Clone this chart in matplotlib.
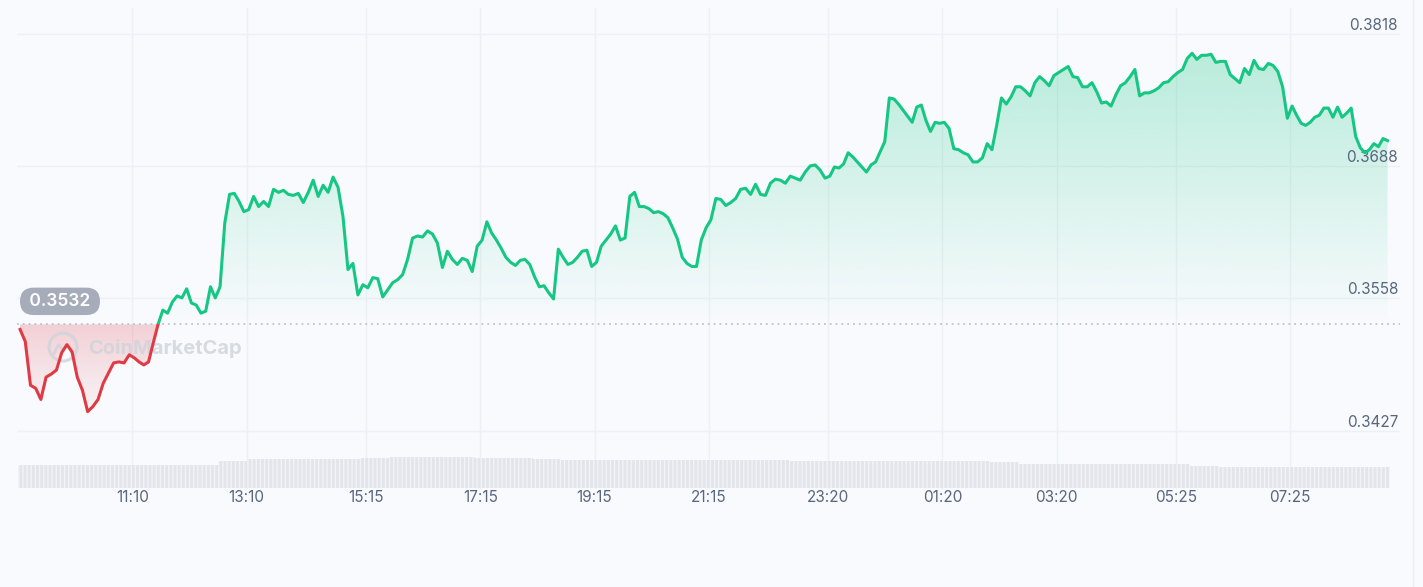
import numpy as np
import matplotlib
matplotlib.use("Agg")
import matplotlib.pyplot as plt
import matplotlib.transforms as mtransforms
from matplotlib.patches import Polygon, Rectangle, Ellipse
from matplotlib.lines import Line2D
from matplotlib.colors import to_rgb

plt.rcParams['font.family'] = ['Inter', 'DejaVu Sans']

# 24h price, one list per 2h window (09:10 -> 09:10 next day)
p_a = [0.3527, 0.3515, 0.3472, 0.3469, 0.3458, 0.3480, 0.3483, 0.3487, 0.3504, 0.3512, 0.3505,
       0.3480, 0.3467, 0.3446, 0.3451, 0.3458, 0.3474, 0.3484, 0.3494, 0.3495, 0.3494, 0.3502]
p_b = [0.3499, 0.3495, 0.3492, 0.3495, 0.3514, 0.3532, 0.3546, 0.3543, 0.3554, 0.3560, 0.3558, 0.3567,
       0.3553, 0.3551, 0.3543, 0.3545, 0.3569, 0.3558, 0.3569, 0.3632, 0.3660, 0.3661, 0.3653, 0.3643]
p_c = [0.3645, 0.3658, 0.3648, 0.3653, 0.3648, 0.3665, 0.3662, 0.3664, 0.3660, 0.3659, 0.3661, 0.3652,
       0.3662, 0.3674, 0.3658, 0.3669, 0.3662, 0.3677, 0.3667, 0.3638, 0.3586, 0.3592, 0.3561, 0.3571]
p_d = [0.3568, 0.3578, 0.3577, 0.3559, 0.3566, 0.3573, 0.3576, 0.3581, 0.3596, 0.3617, 0.3619, 0.3618,
       0.3624, 0.3621, 0.3612, 0.3588, 0.3604, 0.3596, 0.3591, 0.3597, 0.3595, 0.3584, 0.3609]
p_e = [0.3615, 0.3633, 0.3622, 0.3615, 0.3607, 0.3598, 0.3593, 0.3590, 0.3595, 0.3596, 0.3591, 0.3579,
       0.3569, 0.3570, 0.3563, 0.3557, 0.3606, 0.3598, 0.3591, 0.3593, 0.3598, 0.3604, 0.3605, 0.3589]
p_f = [0.3593, 0.3609, 0.3615, 0.3621, 0.3629, 0.3615, 0.3617, 0.3658, 0.3662, 0.3648, 0.3648, 0.3646,
       0.3642, 0.3643, 0.3641, 0.3637, 0.3627, 0.3616, 0.3598, 0.3592, 0.3589, 0.3589, 0.3615, 0.3627]
p_g = [0.3635, 0.3656, 0.3655, 0.3649, 0.3652, 0.3656, 0.3665, 0.3666, 0.3660, 0.3670, 0.3660, 0.3659,
       0.3671, 0.3675, 0.3674, 0.3671, 0.3678, 0.3676, 0.3674, 0.3682, 0.3688, 0.3689, 0.3684, 0.3676]
p_h = [0.3678, 0.3687, 0.3686, 0.3690, 0.3701, 0.3697, 0.3692, 0.3687, 0.3682, 0.3689, 0.3692, 0.3702,
       0.3712, 0.3755, 0.3754, 0.3749, 0.3743, 0.3737, 0.3731, 0.3746, 0.3748, 0.3733, 0.3722, 0.3731, 0.3730]
p_i = [0.3731, 0.3725, 0.3705, 0.3704, 0.3701, 0.3699, 0.3692, 0.3692, 0.3696, 0.3710, 0.3704, 0.3728,
       0.3755, 0.3749, 0.3756, 0.3766, 0.3766, 0.3762, 0.3757, 0.3770, 0.3776, 0.3772, 0.3767, 0.3777]
p_j = [0.3780, 0.3783, 0.3786, 0.3776, 0.3775, 0.3766, 0.3766, 0.3770, 0.3761, 0.3750, 0.3751, 0.3747,
       0.3758, 0.3767, 0.3770, 0.3776, 0.3783, 0.3757, 0.3760, 0.3760, 0.3762, 0.3765, 0.3770, 0.3771, 0.3776]
p_k = [0.3780, 0.3783, 0.3794, 0.3799, 0.3793, 0.3797, 0.3797, 0.3798, 0.3790, 0.3791, 0.3791, 0.3778,
       0.3774, 0.3770, 0.3784, 0.3778, 0.3792, 0.3784, 0.3783, 0.3789, 0.3787, 0.3781, 0.3766, 0.3735]
p_l = [0.3747, 0.3738, 0.3730, 0.3728, 0.3731, 0.3736, 0.3738, 0.3745, 0.3745, 0.3736, 0.3746,
       0.3736, 0.3740, 0.3745, 0.3717, 0.3706, 0.3701, 0.3704, 0.3710, 0.3707, 0.3715, 0.3713]

# 24h volume, half-hour buckets (millions)
volume = [232, 230, 231, 229, 230, 231, 232, 268,
          288, 290, 291, 292, 305, 308, 310, 312,
          302, 296, 290, 285, 280, 279, 279, 278,
          277, 276, 276, 275, 274, 274, 273, 272,
          271, 270, 262, 242, 241, 240, 240, 239,
          238, 222, 212, 210, 210, 209, 208, 208]

start_time = "09:10"
tick_labels = ["11:10", "13:10", "15:15", "17:15", "19:15", "21:15",
               "23:20", "01:20", "03:20", "05:25", "07:25"]
price_levels = [0.3818, 0.3688, 0.3558, 0.3427]
open_price = 0.3532

GREEN = '#16c784'
RED = '#e03a44'
BG = '#f8fafd'
GRID = '#edf0f4'
TXT = '#58667e'


def hours_since_start(label):
    h, m = map(int, label.split(':'))
    h0, m0 = map(int, start_time.split(':'))
    return ((h * 60 + m) - (h0 * 60 + m0)) % 1440 / 60


tick_hours = [hours_since_start(l) for l in tick_labels]
edges = [0.0] + tick_hours + [24.0]
segments = [p_a, p_b, p_c, p_d, p_e, p_f, p_g, p_h, p_i, p_j, p_k, p_l]

# samples sit in the middle of their slot inside each window
t_parts = []
for i, seg in enumerate(segments):
    dt = (edges[i + 1] - edges[i]) / len(seg)
    t_parts.append(edges[i] + (np.arange(len(seg)) + 0.4) * dt)
t = np.concatenate(t_parts)
price = np.concatenate([np.array(s) for s in segments])

W, H = 1423, 587
fig = plt.figure(figsize=(W / 100, H / 100), dpi=100, facecolor=BG)
left, right, top, bottom = 17, 1400, 8, 489
ax = fig.add_axes([left / W, 1 - bottom / H, (right - left) / W, (bottom - top) / H])
ax.set_facecolor(BG)

XMIN, XMAX = -0.0175, 24.17
YMIN, YMAX = 0.33698, 0.38436


def gradient_fill(ax, t, y, base, color, a_start, a_end, y_top, y_bot, above):
    yy = np.maximum(y, base) if above else np.minimum(y, base)
    verts = np.vstack([np.column_stack([t, yy]), [t[-1], base], [t[0], base]])
    poly = Polygon(verts, closed=True, facecolor='none', edgecolor='none')
    ax.add_patch(poly)
    grad = np.zeros((256, 1, 4))
    grad[..., :3] = to_rgb(color)
    grad[:, 0, 3] = np.linspace(a_start, a_end, 256)
    im = ax.imshow(grad, aspect='auto', origin='upper', zorder=1,
                   extent=[t[0], t[-1], y_bot, y_top], interpolation='bilinear')
    im.set_clip_path(poly)


gradient_fill(ax, t, price, open_price, GREEN, 0.28, 0.0, price.max(), open_price, True)
gradient_fill(ax, t, price, open_price, RED, 0.22, 0.03, open_price, price.min(), False)

# price line, green above the open price, red below
for color, y0 in [(GREEN, open_price), (RED, open_price - 1)]:
    line, = ax.plot(t, price, color=color, lw=2.2, zorder=4, solid_joinstyle='round')
    clip = Rectangle((XMIN - 1, y0), 30, 1, transform=ax.transData)
    line.set_clip_path(clip)

ax.axhline(open_price, color='#b4bccb', lw=1.1, ls=(0, (1.2, 2.6)), zorder=3)

# grid and axis labels
ax.set_xticks(tick_hours, tick_labels)
ax.set_yticks(price_levels)
ax.grid(True, color=GRID, lw=1, zorder=0)
ax.set_axisbelow(True)
ax.tick_params(axis='x', length=0, pad=1, labelsize=11, labelcolor=TXT)
ax.tick_params(axis='y', length=0, labelleft=False)
for s in ax.spines.values():
    s.set_visible(False)

trans = mtransforms.offset_copy(ax.get_yaxis_transform(), fig=fig, y=4, units='dots')
for v in price_levels:
    ax.text(0.9986, v, f"{v:.4f}", transform=trans, ha='right', va='baseline',
            fontsize=11, color=TXT, zorder=2)

# opening price badge
ax.annotate(f" {open_price:.4f} ", xy=(0, open_price), xycoords=ax.get_yaxis_transform(),
            xytext=(43, 23), textcoords='offset pixels', ha='center', va='center',
            fontsize=12.5, color='white', fontweight='semibold', zorder=6,
            bbox=dict(boxstyle='round,pad=0.3,rounding_size=0.8', fc='#a6acb9', ec='none'))

# watermark
wm = '#cfd3da'
ax.text(0.0513, 0.293, "CoinMarketCap", transform=ax.transAxes, fontsize=14.5,
        fontweight='bold', color=wm, alpha=0.8, ha='left', va='center', zorder=2)
ax.add_patch(Ellipse((0.0333, 0.2952), 28 / (right - left), 28 / (bottom - top),
                     transform=ax.transAxes, fill=False, ec=wm, lw=2.2, alpha=0.8, zorder=2))
ax.plot([0.0268, 0.0300, 0.0333, 0.0366, 0.0398], [0.282, 0.300, 0.288, 0.300, 0.282],
        transform=ax.transAxes, color=wm, lw=2, alpha=0.8, zorder=2)

ax.set_xlim(XMIN, XMAX)
ax.set_ylim(YMIN, YMAX)

# volume strip
vax = fig.add_axes([left / W, 1 - 488 / H, (right - left) / W, 40 / H])
vax.patch.set_alpha(0)
vt = np.arange(len(volume)) * 0.5
plt.rcParams['hatch.linewidth'] = 1.0
vax.bar(vt, volume, width=0.5, align='edge', color='#e3e5ea', edgecolor='#f1f3f7',
        lw=0, hatch='||||')
vax.set_xlim(XMIN, XMAX)
vax.set_ylim(0, 400)
vax.axis('off')

fig.add_artist(Line2D([1413 / W, 1413 / W], [0, 1], color='#eceef2', lw=1))

fig.savefig("out.png", dpi=100, facecolor=BG)
